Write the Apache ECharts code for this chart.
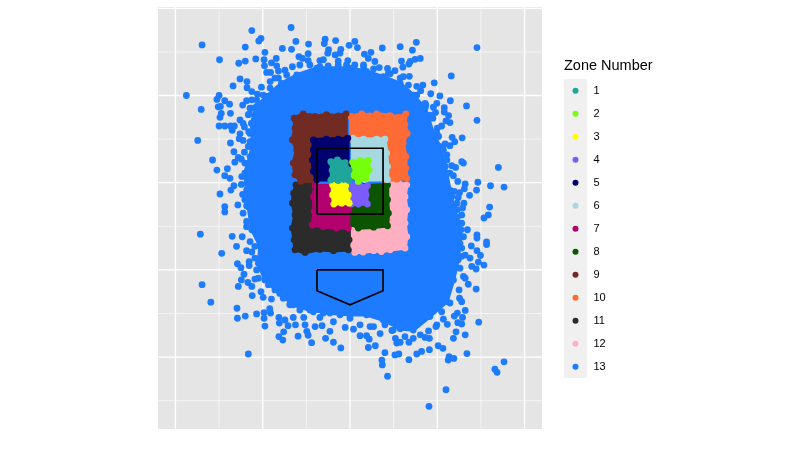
<!DOCTYPE html>
<html><head><meta charset="utf-8">
<style>html,body{margin:0;padding:0;background:#fff}#c{width:798px;height:457px}</style>
<script src="https://cdn.jsdelivr.net/npm/echarts@6/dist/echarts.min.js"></script>
</head><body><div id="c"></div>
<script>
const zoneNames=['1','2','3','4','5','6','7','8','9','10','11','12','13'];
const zoneColors=['#1FA59B','#76FF0A','#FFFF00','#7A5CFF','#00006E','#A6D8E2','#B2006E','#0C5500','#722B23','#FF6B35','#2B2B2B','#FFAFC1','#1C7BFF'];
const xMajor=[-4,-2,0,2,4];
const xMinor=[-3,-1,1,3];
const yMajor=[-2,0,2,4,6];
const yMinor=[-3,-1,1,3,5];
const strikeZone=[[-0.757,1.28],[0.757,1.28],[0.757,2.79],[-0.757,2.79],[-0.757,1.28]];
const homePlate=[[-0.757,0],[0.757,0],[0.757,-0.48],[0,-0.8],[-0.757,-0.48],[-0.757,0]];

const zone1=[[-.44,2.48],[-.29,2.52],[-.11,2.46],[-.02,2.29],[-.02,2.05],[-.27,2.05],[-.44,2.06],[-.41,2.28]];
const zone2=[[.06,2.47],[.23,2.51],[.42,2.51],[.44,2.29],[.37,2.10],[.19,2.03],[.06,2.16]];
const zone3=[[-.40,1.95],[-.24,1.97],[-.10,1.93],[-.04,1.72],[-.02,1.53],[-.19,1.53],[-.37,1.51],[-.40,1.72]];
const zone4=[[.06,1.93],[.23,1.93],[.40,1.93],[.37,1.72],[.40,1.51],[.19,1.51],[.03,1.51],[.02,1.72]];
const zone5=[[-.84,2.98],[-.54,3.0],[-.27,3.0],[-.05,3.02],[-.05,2.4],[-.35,2.4],[-.35,2.07],[-.76,2.07],[-.84,2.26],[-.86,2.52],[-.84,2.75]];
const zone6=[[.06,3.02],[.31,3.0],[.61,3.0],[.80,3.0],[.84,2.68],[.86,2.37],[.86,2.07],[.35,2.07],[.35,2.4],[.06,2.4]];
const zone7=[[-.80,1.93],[-.35,1.93],[-.35,1.55],[-.02,1.55],[-.02,1.41],[-.04,.96],[-.31,.96],[-.61,.99],[-.86,1.03],[-.82,1.34],[-.84,1.68]];
const zone8=[[.35,1.93],[.86,1.95],[.86,1.61],[.88,1.30],[.86,1.01],[.54,.98],[.19,.96],[.02,1.06],[.05,1.55],[.35,1.55]];
const zone9=[[-1.28,3.48],[-1.07,3.58],[-.93,3.52],[-.80,3.52],[-.54,3.56],[-.27,3.53],[-.09,3.58],[-.09,3.0],[-.46,3.0],[-.80,3.0],[-.80,2.6],[-.80,2.03],[-1.13,2.03],[-1.26,2.18],[-1.30,2.45],[-1.22,2.75],[-1.32,2.98],[-1.26,3.25]];
const zone10=[[.02,3.52],[.27,3.58],[.45,3.53],[.61,3.58],[.92,3.54],[1.10,3.5],[1.28,3.58],[1.26,3.33],[1.31,3.13],[1.22,2.91],[1.28,2.60],[1.28,2.33],[1.30,2.10],[1.07,2.08],[.80,2.08],[.80,2.52],[.80,2.98],[.46,3.0],[.02,3.0]];
const zone11=[[-1.24,1.95],[-1.07,2.0],[-.80,1.93],[-.78,1.05],[-.46,1.05],[-.02,1.05],[-.02,.69],[-.04,.46],[-.38,.44],[-.69,.47],[-1.03,.40],[-1.26,.46],[-1.28,.69],[-1.32,.96],[-1.26,1.26],[-1.32,1.53],[-1.29,1.76]];
const zone12=[[.80,1.98],[1.11,2.0],[1.30,1.95],[1.26,1.68],[1.30,1.38],[1.26,1.07],[1.30,.76],[1.26,.50],[.92,.46],[.72,.42],[.54,.44],[.30,.41],[.11,.40],[.02,.61],[.02,1.05],[.38,1.05],[.80,1.1],[.80,1.45]];
const zone13Dense=[[0,4.63],[-.76,4.63],[-1.22,4.47],[-1.57,4.28],[-1.91,3.98],[-2.14,3.75],[-2.26,3.36],[-2.22,2.98],[-2.29,2.60],[-2.41,2.22],[-2.37,1.83],[-2.33,1.45],[-2.25,.92],[-2.06,.54],[-2.10,.15],[-1.95,-.23],[-1.61,-.54],[-1.30,-.80],[-.92,-.92],[-.46,-.99],[0,-1.03],[.38,-1.03],[.76,-1.15],[1.15,-1.35],[1.45,-1.38],[1.83,-1.07],[2.22,-.73],[2.37,-.23],[2.48,.23],[2.52,.61],[2.54,.92],[2.37,1.45],[2.29,1.83],[2.18,2.37],[2.06,2.83],[1.91,3.13],[1.72,3.71],[1.45,4.01],[1.15,4.28],[.76,4.43],[.38,4.55]];
const zone13Fringe=[[-1.15,4.70],[-.92,4.70],[-.69,4.66],[-.50,4.68],[-.27,4.70],[-.08,4.70],[-1.45,4.47],[-1.64,4.40],[-1.83,4.17],[-1.99,4.01],[-2.14,3.90],[-2.25,3.71],[-2.33,3.56],[-2.29,3.13],[-2.33,2.83],[-2.41,2.45],[-2.48,2.14],[-2.41,1.61],[-2.45,1.30],[-2.37,.99],[-2.18,.54],[-2.18,.27],[-2.14,0],[-2.10,-.19],[-1.87,-.34],[-1.72,-.46],[-1.53,-.65],[-1.38,-.80],[-1.15,-.92],[-.84,-.96],[-.61,-.99],[-.23,-1.03],[0,-1.11],[.23,-1.26],[.46,-1.30],[.80,-1.26],[.99,-1.38],[1.26,-1.53],[1.61,-1.49],[1.99,-1.26],[2.10,-.96],[2.29,-.76],[2.60,-.15],[2.52,.04],[2.56,.31],[2.64,.34],[2.60,.76],[2.45,1.38],[2.33,1.68],[2.29,2.22],[2.22,2.52],[2.14,2.75],[1.99,3.13],[1.83,3.55],[1.72,3.82],[1.53,4.01],[1.34,4.24],[1.15,4.40],[.88,4.51],[.31,4.66],[.11,4.70]];
const zone13Scatter=[[-3.39,5.16],[-2.25,5.49],[-1.35,5.56],[-2.04,5.31],[-2.09,5.25],[-2.40,5.11],[-1.24,5.24],[-1.55,5.08],[-1.34,5.06],[-.95,5.18],[-1.95,4.99],[-.57,5.29],[-.59,5.19],[-.33,5.26],[-.02,5.15],[-.49,5.05],[-.51,4.97],[-.21,5.06],[-.23,4.97],[-.34,4.93],[-.96,4.96],[-2.99,4.82],[-2.55,4.74],[-2.40,4.79],[-2.16,4.84],[-1.97,4.82],[-1.96,4.68],[-1.80,4.75],[-1.69,4.85],[-1.17,4.89],[-1.09,4.85],[-.96,4.80],[-.69,4.80],[-.61,4.82],[-.05,4.80],[-.27,4.79],[-1.68,4.68],[-1.91,4.53],[-1.82,4.53],[-1.64,4.56],[-1.49,4.58],[-1.32,4.66],[-2.52,4.38],[-2.68,4.22],[-2.36,4.32],[-2.36,4.18],[-1.83,4.32],[-1.72,4.40],[-2.03,4.19],[-2.25,4.09],[-2.12,4.03],[-3.75,4.00],[-3.0,4.0],[-3.05,3.91],[-2.87,3.88],[-2.76,3.80],[-3.02,3.74],[-2.97,3.75],[-3.41,3.68],[-2.46,3.78],[-2.37,3.88],[-2.25,3.90],[-2.29,3.71],[-2.74,3.59],[-2.95,3.59],[-2.98,3.50],[-2.30,3.58],[-2.52,3.44],[-2.45,3.36],[-3.0,3.30],[-2.87,3.30],[-2.74,3.30],[-2.65,3.30],[-2.70,3.20],[-2.42,3.28],[-2.32,3.17],[-2.52,3.12],[-2.54,3.01],[-2.45,2.97],[-3.49,2.97],[-2.74,2.91],[-2.29,2.94],[-2.66,2.71],[-2.42,2.70],[-2.56,2.58],[-2.64,2.47],[-2.49,2.54],[-3.15,2.52],[-3.05,2.29],[-2.81,2.32],[-2.87,2.16],[-2.75,2.10],[-2.73,1.83],[-2.66,1.93],[-2.49,1.96],[-2.98,1.74],[-2.46,1.73],[-2.57,1.49],[-2.87,1.45],[-2.87,1.33],[-2.37,1.11],[-2.37,1.47],
[.11,5.24],[.17,5.10],[.74,5.09],[1.15,5.12],[1.52,5.22],[1.43,5.04],[2.91,5.10],[.33,4.95],[.48,4.99],[.42,4.85],[.57,4.78],[1.18,4.79],[1.38,4.78],[1.49,4.83],[1.61,4.85],[1.35,4.72],[1.21,4.65],[.31,4.70],[.54,4.61],[.67,4.64],[.86,4.62],[1.03,4.57],[.92,4.50],[1.36,4.44],[1.22,4.43],[2.32,4.45],[1.93,4.29],[1.53,4.21],[1.67,4.24],[1.62,4.11],[1.85,4.04],[2.06,3.99],[2.30,3.88],[1.99,3.82],[1.91,3.73],[1.74,3.78],[2.67,3.76],[2.16,3.72],[2.16,3.62],[1.96,3.61],[2.26,3.54],[2.91,3.43],[1.90,3.48],[2.20,3.42],[2.29,3.38],[2.10,3.30],[2.0,3.25],[2.03,3.06],[2.57,3.03],[2.34,3.04],[2.40,2.94],[2.18,2.89],[2.29,2.85],[2.22,2.64],[2.56,2.48],[2.60,2.45],[2.33,2.39],[2.42,2.35],[3.40,2.35],[2.26,2.22],[2.37,2.16],[2.47,2.03],[2.64,1.97],[2.93,2.01],[3.22,1.93],[3.53,1.90],[2.62,1.86],[2.90,1.83],[2.39,1.80],[2.51,1.77],[2.74,1.71],[2.48,1.66],[2.45,1.53],[2.61,1.53],[3.20,1.44],[2.58,1.42],[2.35,1.37],[3.17,1.26],[3.07,1.19],[2.56,1.26],[2.46,1.21],[2.56,1.07],[2.69,.92],
[-3.43,.82],[-2.70,.77],[-2.47,.76],[-2.29,.65],[-2.60,.54],[-2.94,.38],[-2.37,.44],[-2.25,.41],[-2.31,.19],[-2.31,.10],[-2.58,.14],[-2.50,.05],[-2.43,-.10],[-2.49,-.23],[-2.56,-.38],[-2.34,-.29],[-3.39,-.34],[-2.18,-.21],[-2.25,-.38],[-2.24,-.59],[-2.04,-.50],[-1.99,-.63],[-1.80,-.67],[-3.19,-.74],[-1.84,-.89],[-2.59,-.88],[-1.97,-.98],[-1.82,-.99],[-2.14,-1.01],[-2.40,-1.06],[-2.58,-1.11],[-1.97,-1.11],[-1.95,-1.29],[-1.63,-1.09],[-1.49,-1.15],[-1.62,-1.22],[-1.42,-1.28],[-1.30,-1.09],[-1.06,-1.09],[-1.25,-1.26],[-1.03,-1.26],[-1.52,-1.42],[-1.63,-1.53],[-1.54,-1.61],[-1.19,-1.52],[-.99,-1.41],[-.96,-1.50],[-.88,-1.67],[-.80,-1.30],[-.64,-1.28],[-.46,-1.41],[-.56,-1.57],[-.38,-1.66],[-.21,-1.79],[-2.33,-1.93],[-.38,-1.19],[-.11,-1.32],[-.69,-1.09],
[2.91,.80],[2.91,.73],[3.13,.64],[3.13,.58],[2.78,.55],[2.56,.50],[2.91,.44],[2.99,.33],[2.75,.27],[2.94,.18],[3.07,.11],[2.79,.08],[2.89,.02],[2.64,-.19],[2.71,-.33],[2.89,-.44],[2.50,-.46],[2.51,-.65],[2.56,-.73],[2.64,-.93],[2.46,-.99],[2.39,-1.06],[2.58,-1.09],[2.95,-1.20],[2.47,-1.21],[2.56,-1.24],[2.23,-1.25],[2.14,-1.13],[1.97,-1.30],[2.43,-1.42],[2.64,-1.49],[2.37,-1.57],[1.80,-1.40],[1.72,-1.55],[1.82,-1.57],[1.35,-1.66],[1.45,-1.57],[1.04,-1.57],[1.07,-1.68],[1.15,-1.66],[.96,-1.39],[.69,-1.46],[.54,-1.30],[.38,-1.51],[.44,-1.59],[.23,-1.51],[.08,-1.36],[.42,-1.78],[.58,-1.74],[.80,-1.90],[1.03,-1.95],[1.12,-1.93],[.73,-2.07],[.74,-2.18],[1.35,-2.06],[1.53,-1.93],[1.64,-1.87],[1.82,-1.83],[2.02,-1.74],[2.13,-1.80],[2.68,-1.92],[2.27,-1.99],[2.25,-2.07],[2.38,-2.03],[3.53,-2.11],[3.32,-2.28],[3.37,-2.35],[.86,-2.44],[2.20,-2.75],[1.81,-3.13]];

const zones=[zone1,zone2,zone3,zone4,zone5,zone6,zone7,zone8,zone9,zone10,zone11,zone12,zone13Dense];
const dotSize=6.8;

function gridLines(values,vertical,width){
  return {type:'custom',coordinateSystem:'cartesian2d',silent:true,z:1,clip:true,
    data:values.map(v=>[v]),
    renderItem(params,api){
      const cs=params.coordSys, v=api.value(0);
      const p=vertical?api.coord([v,0])[0]:api.coord([0,v])[1];
      return {type:'line',shape:vertical?{x1:p,y1:cs.y,x2:p,y2:cs.y+cs.height}:{x1:cs.x,y1:p,x2:cs.x+cs.width,y2:p},
        style:{stroke:'#fff',lineWidth:width}};
    }};
}
function fill(i){
  return {type:'custom',name:zoneNames[i],coordinateSystem:'cartesian2d',silent:true,z:2+(12-i),clip:true,
    itemStyle:{color:zoneColors[i]},data:[[0]],
    renderItem(params,api){
      return {type:'polygon',shape:{points:zones[i].map(p=>api.coord(p))},
        style:{fill:zoneColors[i],stroke:zoneColors[i],lineWidth:3.5,lineJoin:'round'}};
    }};
}
function dots(i,data){
  return {type:'scatter',name:zoneNames[i],z:2+(12-i),symbol:'circle',symbolSize:dotSize,silent:true,
    itemStyle:{color:zoneColors[i],opacity:1},data};
}
function outline(arr,width){
  return {type:'custom',coordinateSystem:'cartesian2d',silent:true,z:20,data:[[0]],
    renderItem(params,api){
      return {type:'polyline',shape:{points:arr.map(p=>api.coord(p))},style:{stroke:'#000',lineWidth:width,fill:null}};
    }};
}
const series=[gridLines(xMinor,true,0.6),gridLines(yMinor,false,0.6),gridLines(xMajor,true,1.3),gridLines(yMajor,false,1.3)];
for(let i=12;i>=0;i--){
  series.push(fill(i));
  series.push(dots(i,i===12?zone13Dense.concat(zone13Fringe,zone13Scatter):zones[i]));
}
series.push(outline(strikeZone,1.7),outline(homePlate,1.7));

const chart=echarts.init(document.getElementById('c'),null,{renderer:'canvas'});
chart.setOption({
  animation:false,
  backgroundColor:'#fff',
  grid:{left:158,right:256,top:7,bottom:28,show:true,backgroundColor:'#E5E5E5',borderWidth:0},
  xAxis:{type:'value',min:-4.4,max:4.4,show:false,splitLine:{show:false}},
  yAxis:{type:'value',min:-3.65,max:6.03,show:false,splitLine:{show:false}},
  title:{text:'Zone Number',left:564,top:58,padding:0,textStyle:{fontFamily:'Liberation Sans',fontSize:14.5,fontWeight:'normal',color:'#000'}},
  legend:{orient:'vertical',left:572.5,top:84.3,padding:0,itemWidth:23,itemHeight:6,itemGap:10,icon:'circle',selectedMode:false,
    data:zoneNames,textStyle:{fontFamily:'Liberation Sans',fontSize:11,color:'#000',lineHeight:13,padding:[0,0,0,1.5]}},
  graphic:[{type:'rect',z:-1,silent:true,shape:{x:564,y:79,width:23,height:299},style:{fill:'#F0F0F0'}}],
  series
});
</script></body></html>
